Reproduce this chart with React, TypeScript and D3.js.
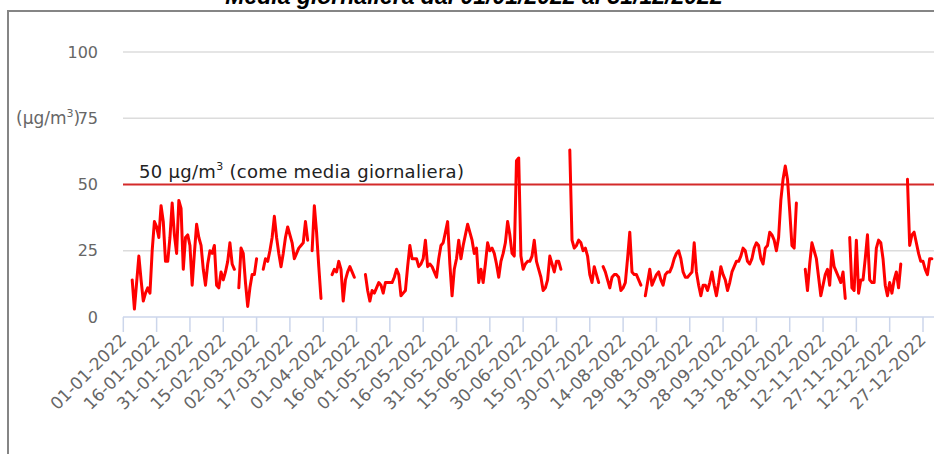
import React from "react";
import * as d3 from "d3";

// Daily PM10 means 2022 (µg/m³), null = no data
const jan = [null,null,null,null,14,3,13,23,14,6,9,11,9,25,36,34,30,42,36,21,21,30,43,31,24,44,41,18,30,31,27];
const feb = [12,24,35,30,27,18,12,20,25,24,27,12,11,17,14,17,21,28,20,18,null,11,26,24,13,4,11,16];
const mar = [16,22,null,null,18,22,21,25,30,38,30,24,19,24,30,34,31,28,22,24,26,27,28,36,29,null,25,42,32,19,7];
const apr = [null,null,null,null,16,18,17,21,18,6,14,17,19,17,15,null,null,null,null,16,10,6,10,9,11,13,12,9,13,13];
const may = [13,13,15,18,16,8,9,10,19,27,22,22,22,19,20,22,29,19,20,19,17,15,22,27,28,32,36,20,8,18,22];
const jun = [29,22,27,31,35,32,29,24,26,13,18,13,20,28,25,26,24,20,15,21,24,28,36,31,24,23,59,60,23,18];
const jul = [20,21,21,23,29,21,18,15,10,11,14,23,20,17,21,21,18,null,null,null,63,29,26,27,29,28,25,26,23,16,13];
const aug = [19,16,13,null,19,17,14,11,15,16,16,15,10,11,13,22,32,17,16,16,14,12,null,8,13,18,12,14,16,17,14];
const sep = [12,16,17,17,19,22,24,25,22,17,15,15,16,17,28,17,12,8,12,12,10,13,17,12,8,13,19,16,14,10];
const oct = [13,17,19,21,21,23,26,25,21,20,22,26,28,27,22,20,26,27,32,31,29,25,30,44,52,57,52,40,27,26,43];
const nov = [null,null,null,18,10,20,28,25,22,15,8,12,16,18,12,25,19,17,15,13,17,7,null,30,11,10,29,9,14,14];
const dec = [22,31,14,13,13,26,29,28,22,12,8,13,9,14,17,11,20,null,null,52,27,31,32,28,24,21,21,18,16,22,22];

const yTicks = [0, 25, 50, 75, 100];
const limitValue = 50;
const titleText = "Media giornaliera dal 01/01/2022 al 31/12/2022";
const tickStepDays = 15;
const tickCount = 25;

const W = 934;
const H = 454;

export default function App() {
  const start = new Date(2022, 0, 1);
  const values: (number | null)[] = [...jan, ...feb, ...mar, ...apr, ...may, ...jun, ...jul, ...aug, ...sep, ...oct, ...nov, ...dec];
  const data = values.map((v, i) => ({ date: d3.timeDay.offset(start, i), value: v }));

  const x = d3.scaleTime().domain([start, new Date(2022, 11, 27)]).range([123.3, 923]);
  const y = d3.scaleLinear().domain([0, 100]).range([317, 52]);

  const line = d3
    .line<{ date: Date; value: number | null }>()
    .defined((d) => d.value != null)
    .x((d) => x(d.date))
    .y((d) => y(d.value as number));

  const xTicks = d3.range(tickCount).map((i) => d3.timeDay.offset(start, i * tickStepDays));
  const fmt = d3.timeFormat("%d-%m-%Y");
  const plotLeft = 123;
  const plotRight = W;

  return (
    <svg width={W} height={H} style={{ position: "absolute", left: 0, top: 0, background: "#fff" }}>
      <text x={474} y={4} textAnchor="middle" fontFamily="Liberation Sans" fontWeight="bold" fontStyle="italic" fontSize={23} fill="#000">
        {titleText}
      </text>
      <path d={`M8,${H} L8,11 L${W},11`} fill="none" stroke="#858585" strokeWidth={2} />

      {yTicks.filter((t) => t !== 0 && t !== limitValue).map((t) => (
        <line key={t} x1={plotLeft} x2={plotRight} y1={y(t)} y2={y(t)} stroke="#dcdcdc" strokeWidth={1.5} />
      ))}
      {yTicks.map((t) => (
        <text key={t} x={98} y={y(t)} dy="0.35em" textAnchor="end" fontFamily="DejaVu Sans" fontSize={16} fill="#666">
          {t}
        </text>
      ))}
      <text x={16} y={124} fontFamily="DejaVu Sans" fontSize={17} fill="#666">
        (µg/m<tspan fontSize={11} dy={-7}>3</tspan><tspan dy={7}>)</tspan>
      </text>

      <line x1={plotLeft} x2={plotRight} y1={y(0)} y2={y(0)} stroke="#ccd6eb" strokeWidth={1.5} />
      {xTicks.map((t, i) => (
        <g key={i}>
          <line x1={x(t)} x2={x(t)} y1={y(0)} y2={y(0) + 15} stroke="#ccd6eb" strokeWidth={1.5} />
          <text
            transform={`translate(${x(t) + 4},${341}) rotate(-45)`}
            textAnchor="end"
            fontFamily="DejaVu Sans"
            fontSize={17}
            fill="#666"
          >
            {fmt(t)}
          </text>
        </g>
      ))}

      <line x1={plotLeft} x2={plotRight} y1={y(limitValue)} y2={y(limitValue)} stroke="#d42a2a" strokeWidth={2} />
      <text x={139} y={178} fontFamily="DejaVu Sans" fontSize={18} letterSpacing={0.3} fill="#222">
        50 µg/m<tspan fontSize={11} dy={-8}>3</tspan><tspan dy={8}> (come media giornaliera)</tspan>
      </text>

      <path d={line(data) || ""} fill="none" stroke="#ff0000" strokeWidth={3} strokeLinejoin="round" strokeLinecap="round" />
    </svg>
  );
}
